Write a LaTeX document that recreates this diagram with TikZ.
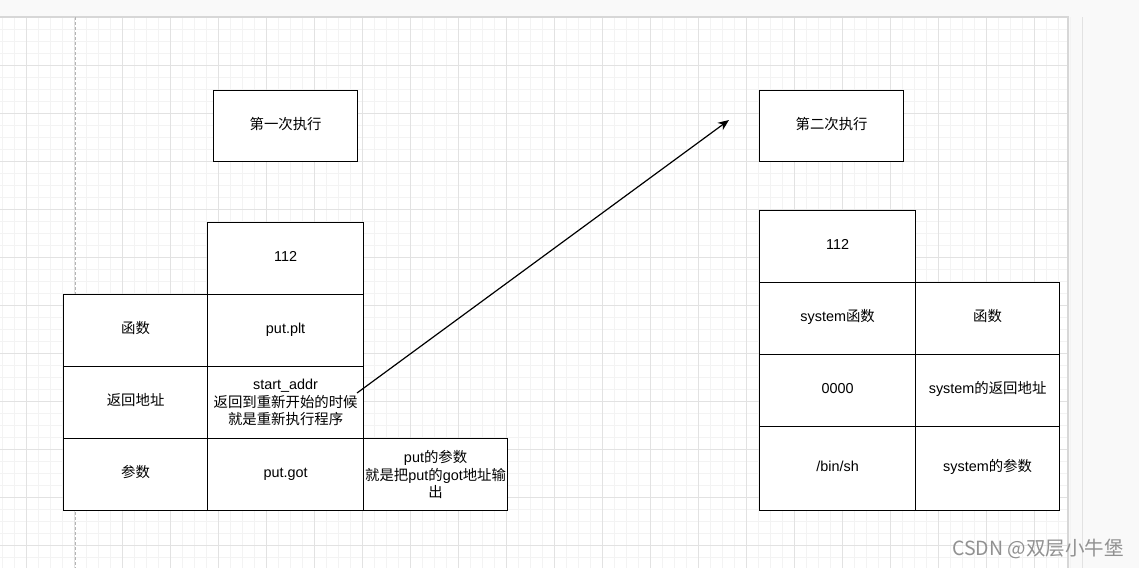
\documentclass[tikz,border=0pt]{standalone}
\usepackage{fontspec}
\setmainfont{Liberation Sans}
\newfontfamily\cjk{Noto Sans CJK SC}
\usetikzlibrary{arrows.meta}
\newcommand{\zh}[1]{{\cjk #1}}
\definecolor{pagebg}{RGB}{249,249,249}
\definecolor{gridminor}{RGB}{243,243,243}
\definecolor{gridmajor}{RGB}{226,226,226}
\definecolor{pageedge}{RGB}{215,215,215}
\definecolor{dashcol}{RGB}{180,180,180}
\definecolor{wm}{RGB}{145,145,145}
\begin{document}
\begin{tikzpicture}[x=1pt,y=-1pt,
  cell/.style={draw=black, line width=1.2pt, fill=white, anchor=north west,
    inner sep=0pt, align=center, font=\fontsize{14.4}{17.3}\selectfont,
    minimum width=144pt, minimum height=72pt},
  one/.style={text height=10pt, text depth=4pt},
  wide/.style={minimum width=156pt},
  link/.style={draw=black, line width=1.2pt, -{Stealth[length=11pt,width=9pt]}}]
\useasboundingbox (0,0) rectangle (1139,568);
% background and canvas
\fill[pagebg] (0,0) rectangle (1139,568);
\fill[white] (0,17) rectangle (1068,568);
\foreach \i in {0,...,89} {\draw[gridminor, line width=1pt] ({2.7+12*\i},17) -- ({2.7+12*\i},568);}
\foreach \i in {0,...,45} {\draw[gridminor, line width=1pt] (0,{17.3+12*\i}) -- (1068,{17.3+12*\i});}
\foreach \i in {0,...,22} {\draw[gridmajor, line width=1pt] ({26.7+48*\i},17) -- ({26.7+48*\i},568);}
\foreach \i in {1,...,11} {\draw[gridmajor, line width=1pt] (0,{17.3+48*\i}) -- (1068,{17.3+48*\i});}
\draw[pageedge, line width=1.2pt] (0,17) -- (1068,17) -- (1068,568);
\draw[dashcol, line width=1pt, dash pattern=on 3pt off 2pt] (75,17) -- (75,568);
% first execution
\node[cell, one, minimum height=71pt] (t1) at (213,90) {\zh{第一次执行}};
\node[cell, one, wide] (l112) at (207,222) {112};
\node[cell, one] (lf) at (63,294) {\zh{函数}};
\node[cell, one, wide] (lplt) at (207,294) {put.plt};
\node[cell, one] (lr) at (63,366) {\zh{返回地址}};
\node[cell, wide] (lstart) at (207,366) {start\_addr\\\zh{返回到重新开始的时候}\\\zh{就是重新执行程序}};
\node[cell, one] (lp) at (63,438) {\zh{参数}};
\node[cell, one, wide] (lgot) at (207,438) {put.got};
\node[cell] (lpa) at (363,438) {put\zh{的参数}\\\zh{就是把}put\zh{的}got\zh{地址输}\\\zh{出}};
% second execution
\node[cell, one, minimum height=71pt] (t2) at (759,90) {\zh{第二次执行}};
\node[cell, one, wide] (r112) at (759,210) {112};
\node[cell, one, wide] (rsys) at (759,282) {system\zh{函数}};
\node[cell, one] (rf) at (915,282) {\zh{函数}};
\node[cell, one, wide] (r0) at (759,354) {0000};
\node[cell, one] (rret) at (915,354) {system\zh{的返回地址}};
\node[cell, one, wide, minimum height=84pt] (rbin) at (759,426) {/bin/sh};
\node[cell, one, minimum height=84pt] (rpar) at (915,426) {system\zh{的参数}};
% arrow
\coordinate (as) at (357,393);
\coordinate (ae) at (729,120);
\draw[link] (as) -- (ae);
% watermark
\node[text=wm, font=\cjk\fontsize{19.5}{21}\selectfont, anchor=center, inner sep=0pt] (wmk) at (1038,549) {CSDN @双层小牛堡};
\end{tikzpicture}
\end{document}
